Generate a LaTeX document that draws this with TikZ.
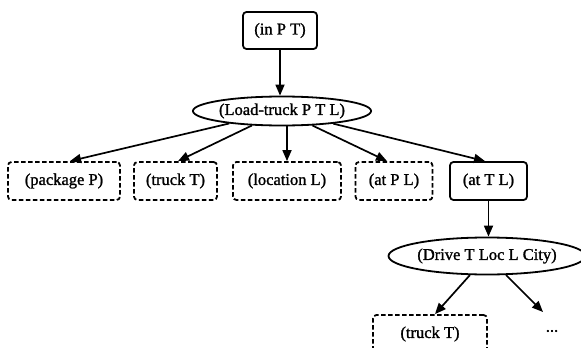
\documentclass[tikz,border=0pt]{standalone}
\usepackage{fontspec}
\setmainfont{Liberation Serif}[FakeBold=1.3]
\usetikzlibrary{arrows.meta,shapes.geometric}
\begin{document}
\begin{tikzpicture}[x=1pt,y=-1pt,
  every node/.style={font=\fontsize{16.5}{19}\selectfont, inner sep=0pt},
  solidbox/.style={draw, line width=1.8pt, rounded corners=3.5pt, minimum height=38pt},
  dashbox/.style={draw, line width=1.8pt, rounded corners=3.5pt, dash pattern=on 4.5pt off 2.5pt, minimum height=38pt},
  oval/.style={draw, ellipse, line width=1.8pt},
  arr/.style={line width=1.7pt, -{Triangle[length=11pt,width=9pt]}}]
\useasboundingbox (0,0) rectangle (581,348);
\clip (0,0) rectangle (581,348);
\node[solidbox, minimum width=74pt, minimum height=37pt] (inpt) at (280,30.5) {(in P T)};
\node[oval, minimum width=172pt, minimum height=29pt] (load) at (282,111) {(Load-truck P T L)};
\node[dashbox, minimum width=112pt] (pkg) at (64,181) {(package P)};
\node[dashbox, minimum width=83pt] (truck) at (175.5,181) {(truck T)};
\node[dashbox, minimum width=108pt] (loc) at (287,181) {(location L)};
\node[dashbox, minimum width=77pt] (atpl) at (394,181) {(at P L)};
\node[solidbox, minimum width=77pt] (attl) at (488.5,181) {(at T L)};
\node[oval, minimum width=188pt, minimum height=37pt] (drive) at (487,256) {(Drive T Loc L City)};
\node[dashbox, minimum width=114pt] (truckb) at (430,334) {(truck T)};
\node (dots) at (552,331) {...};
\coordinate (dend) at (543,312);
\draw[arr] (inpt.south) -- (inpt.south |- load.north);
\draw[arr] (load) -- ([xshift=6pt]pkg.north);
\draw[arr] (load) -- ([xshift=2.5pt]truck.north);
\draw[arr] (loc.north |- load.south) -- (loc.north);
\draw[arr] (load) -- ([xshift=-7pt]atpl.north);
\draw[arr] (load) -- ([xshift=-3.5pt]attl.north);
\draw[arr] (attl.south) -- (attl.south |- drive.north);
\draw[arr] (drive) -- ([xshift=5pt]truckb.north);
\draw[arr] (drive) -- (dend);
\end{tikzpicture}
\end{document}
